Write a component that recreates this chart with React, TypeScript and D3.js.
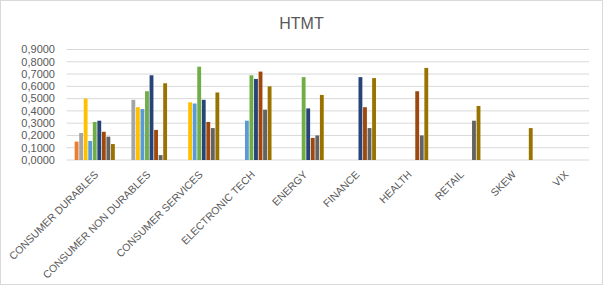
import React from "react";
import { scaleBand, scaleLinear, formatLocale, range } from "d3";

const categories = [
  "CONSUMER DURABLES",
  "CONSUMER NON DURABLES",
  "CONSUMER SERVICES",
  "ELECTRONIC TECH",
  "ENERGY",
  "FINANCE",
  "HEALTH",
  "RETAIL",
  "SKEW",
  "VIX",
];

// one series per variable, values for the categories before it (lower triangle)
const consumerDurables: number[] = [];
const consumerNonDurables = [0.15];
const consumerServices = [0.22, 0.49];
const electronicTech = [0.5, 0.43, 0.47];
const energy = [0.155, 0.415, 0.46, 0.32];
const finance = [0.31, 0.56, 0.76, 0.69, 0.675];
const health = [0.32, 0.69, 0.49, 0.66, 0.42, 0.675];
const retail = [0.23, 0.245, 0.31, 0.72, 0.18, 0.43, 0.56];
const skew = [0.19, 0.04, 0.26, 0.41, 0.2, 0.26, 0.2, 0.32];
const vix = [0.13, 0.625, 0.55, 0.6, 0.53, 0.667, 0.75, 0.44, 0.26];

const series = [
  consumerDurables,
  consumerNonDurables,
  consumerServices,
  electronicTech,
  energy,
  finance,
  health,
  retail,
  skew,
  vix,
];

const colors = [
  "#4472C4",
  "#ED7D31",
  "#A5A5A5",
  "#FFC000",
  "#5B9BD5",
  "#70AD47",
  "#264478",
  "#9E480E",
  "#636363",
  "#997300",
];

const yTicks = [0, 0.1, 0.2, 0.3, 0.4, 0.5, 0.6, 0.7, 0.8, 0.9];

const fmt = formatLocale({ decimal: ",", thousands: ".", grouping: [3], currency: ["", ""] }).format(".4f");

export default function App() {
  const width = 603;
  const height = 285;
  const left = 66.7;
  const right = 589;
  const top = 49.5;
  const bottom = 160;

  const x = scaleBand<string>().domain(categories).range([left, right]).padding(0);
  const inner = scaleBand<number>()
    .domain(range(series.length))
    .range([0, x.bandwidth()])
    .paddingInner(0)
    .paddingOuter(0.75);
  const y = scaleLinear().domain([0, 0.9]).range([bottom, top]);
  const barW = inner.bandwidth() - 0.7;
  const font = "'Liberation Sans', Arial, sans-serif";

  return (
    <svg
      width={width}
      height={height}
      style={{ position: "absolute", left: 0, top: 0, background: "#fff" }}
    >
      <rect x={0.5} y={0.5} width={width - 1} height={height - 1} fill="#fff" stroke="#D9D9D9" />
      <text x={width / 2} y={29} textAnchor="middle" fontFamily={font} fontSize={16} fill="#595959">
        HTMT
      </text>
      {yTicks.map((t) => (
        <g key={t}>
          <line x1={left} x2={right} y1={y(t)} y2={y(t)} stroke="#D9D9D9" strokeWidth={1} />
          <text
            x={55}
            y={y(t)}
            dy="0.35em"
            textAnchor="end"
            fontFamily={font}
            fontSize={11}
            fill="#595959"
          >
            {fmt(t)}
          </text>
        </g>
      ))}
      {series.map((vals, s) =>
        vals.map((v, c) => (
          <rect
            key={`${s}-${c}`}
            x={(x(categories[c]) ?? 0) + (inner(s) ?? 0)}
            y={y(v)}
            width={barW}
            height={bottom - y(v)}
            fill={colors[s]}
          />
        ))
      )}
      {categories.map((c) => {
        const cx = (x(c) ?? 0) + x.bandwidth() / 2;
        return (
          <text
            key={c}
            transform={`translate(${cx + 1},${bottom + 10}) rotate(-45)`}
            textAnchor="end"
            dy="0.7em"
            fontFamily={font}
            fontSize={10.5}
            fill="#595959"
          >
            {c}
          </text>
        );
      })}
    </svg>
  );
}
